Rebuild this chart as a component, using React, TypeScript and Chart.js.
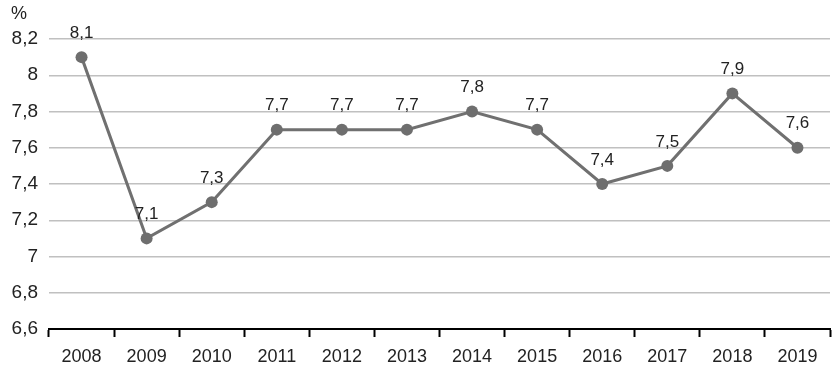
import React, { useEffect, useRef } from "react";
import { Chart, registerables } from "chart.js";

Chart.register(...registerables);

const years = ["2008", "2009", "2010", "2011", "2012", "2013", "2014", "2015", "2016", "2017", "2018", "2019"];
const values = [8.1, 7.1, 7.3, 7.7, 7.7, 7.7, 7.8, 7.7, 7.4, 7.5, 7.9, 7.6];
const yMin = 6.6;
const yMax = 8.2;
const yStep = 0.2;
const unitLabel = "%";

const FONT = "'Liberation Sans', Arial, Helvetica, sans-serif";
const fmt = (v: number) => {
  const r = Math.round(v * 10) / 10;
  return String(r).replace(".", ",");
};

const labelPlugin = {
  id: "valueLabels",
  afterDatasetsDraw(chart: any) {
    const ctx = chart.ctx;
    const meta = chart.getDatasetMeta(0);
    ctx.save();
    ctx.fillStyle = "#222";
    ctx.font = `17px ${FONT}`;
    ctx.textAlign = "center";
    ctx.textBaseline = "middle";
    meta.data.forEach((pt: any, i: number) => {
      ctx.fillText(fmt(values[i]), pt.x, pt.y - 24);
    });
    ctx.textAlign = "left";
    ctx.font = `18px ${FONT}`;
    ctx.fillText(unitLabel, 11, 14);
    ctx.restore();
  },
};

export default function App() {
  const ref = useRef<HTMLCanvasElement>(null);
  useEffect(() => {
    if (!ref.current) return;
    const chart = new Chart(ref.current, {
      type: "line",
      data: {
        labels: years,
        datasets: [
          {
            data: values,
            borderColor: "#707070",
            backgroundColor: "#707070",
            borderWidth: 3,
            pointRadius: 6,
            pointBackgroundColor: "#6e6e6e",
            pointBorderWidth: 0,
            tension: 0,
          },
        ],
      },
      plugins: [labelPlugin],
      options: {
        responsive: false,
        animation: false,
        maintainAspectRatio: false,
        layout: { padding: { top: 39, right: 1, left: 0, bottom: 0 } },
        plugins: { legend: { display: false }, tooltip: { enabled: false } },
        scales: {
          x: {
            offset: true,
            grid: {
              offset: true,
              drawOnChartArea: false,
              drawTicks: true,
              tickLength: 8,
              tickWidth: 2,
              tickColor: "#000",
            },
            border: { display: true, color: "#000", width: 2 },
            ticks: { color: "#222", font: { family: FONT, size: 18 }, padding: 9, maxRotation: 0 },
            afterFit(scale: any) {
              scale.height = 41;
            },
          },
          y: {
            min: yMin,
            max: yMax,
            grid: { color: "#c0c0c0", lineWidth: 1.5, drawTicks: false },
            border: { display: false },
            ticks: {
              stepSize: yStep,
              color: "#222",
              font: { family: FONT, size: 19 },
              padding: 11,
              callback: (v: any) => fmt(Number(v)),
            },
            afterFit(scale: any) {
              scale.width = 49;
            },
          },
        },
      },
    });
    return () => chart.destroy();
  }, []);
  return (
    <div style={{ position: "absolute", left: 0, top: 0, width: 836, height: 370 }}>
      <canvas ref={ref} width={836} height={370} style={{ width: 836, height: 370 }} />
    </div>
  );
}
